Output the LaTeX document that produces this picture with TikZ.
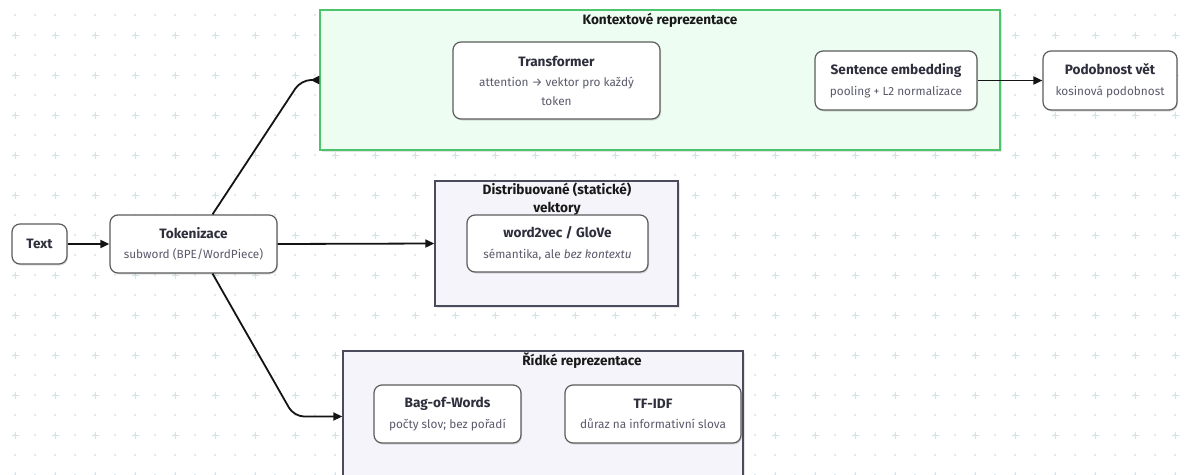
\documentclass[tikz,border=0pt]{standalone}
\usepackage{fontspec}
\setmainfont{Fira Sans}
\usetikzlibrary{arrows.meta,calc,shadows}
\definecolor{gridc}{HTML}{D2E4EA}
\definecolor{ttl}{HTML}{2E2E3C}
\definecolor{subc}{HTML}{5A5A6C}
\definecolor{nodeedge}{HTML}{5C5C5C}
\definecolor{grpedge}{HTML}{4B4B5E}
\definecolor{grpfill}{HTML}{F4F4FA}
\definecolor{ctxedge}{HTML}{4CC46C}
\definecolor{ctxfill}{HTML}{EDFDF2}
% title line, then the grey description below it
\newcommand{\nt}[2]{{\fontsize{13.6}{15}\selectfont\bfseries\color{ttl}#1}\\[2pt]#2}
\tikzset{
  box/.style={draw=nodeedge, line width=1.2pt, fill=white, rounded corners=8pt,
    align=center, inner sep=0pt, text=subc, font=\fontsize{11.8}{18.5}\selectfont,
    drop shadow={shadow xshift=1pt, shadow yshift=-1.5pt, opacity=0.12, fill=black}},
  grp/.style={draw=grpedge, line width=1.4pt, fill=grpfill, inner sep=0pt,
    drop shadow={shadow xshift=1.5pt, shadow yshift=-1.5pt, opacity=0.10, fill=black}},
  ctxgrp/.style={draw=ctxedge, line width=1.4pt, fill=ctxfill, inner sep=0pt,
    drop shadow={shadow xshift=1.5pt, shadow yshift=-1.5pt, opacity=0.10, fill=black}},
  grptitle/.style={font=\fontsize{13.6}{18}\selectfont\bfseries, text=black!90, align=center, inner sep=0pt},
  conn/.style={line width=1.8pt, draw=black!92, -{Triangle[length=9pt,width=8pt]}},
}
\begin{document}
\begin{tikzpicture}[x=1pt,y=-1pt]
\clip (0,0) rectangle (1186,474);
\fill[white] (0,0) rectangle (1186,474);
% dotted background grid with crosses
\foreach \x in {15,35,...,1180}{
  \foreach \y in {15,35,...,480}{
    \fill[gridc] (\x,\y) circle (1.1);
  }
}
\foreach \x in {15,55,...,1180}{
  \foreach \y in {35,75,...,480}{
    \draw[gridc, line width=1pt] (\x-3.5,\y) -- (\x+3.5,\y) (\x,\y-3.5) -- (\x,\y+3.5);
  }
}

% groups
\node[ctxgrp, minimum width=680pt, minimum height=140pt] (ctx) at (660,80) {};
\node[grptitle] (ctxt) at (660,20) {Kontextové reprezentace};
\node[grp, minimum width=243pt, minimum height=125pt] (dist) at (556.5,243.5) {};
\node[grptitle] (distt) at (557,199) {Distribuované (statické)\\vektory};
\node[grp, minimum width=400pt, minimum height=131pt] (sparse) at (543,416.5) {};
\node[grptitle] (sparset) at (582,361) {Řídké reprezentace};

% nodes
\node[box, minimum width=55pt, minimum height=40pt] (txt) at (39.5,244)
  {\fontsize{13.6}{15}\selectfont\bfseries\color{ttl}Text};
\node[box, minimum width=167pt, minimum height=58pt] (tok) at (193.5,244)
  {\nt{Tokenizace}{subword (BPE/WordPiece)}};
\node[box, minimum width=207pt, minimum height=77pt] (trf) at (556.5,80.5)
  {\nt{Transformer}{attention → vektor pro každý\\token}};
\node[box, minimum width=162pt, minimum height=59pt] (sent) at (896,80.5)
  {\nt{Sentence embedding}{pooling + L2 normalizace}};
\node[box, minimum width=134pt, minimum height=59pt] (sim) at (1110,80.5)
  {\nt{Podobnost vět}{kosinová podobnost}};
\node[box, minimum width=181pt, minimum height=57pt] (w2v) at (557.5,243.5)
  {\nt{word2vec / GloVe}{sémantika, ale \textit{bez kontextu}}};
\node[box, minimum width=147pt, minimum height=58pt] (bow) at (447.5,414)
  {\nt{Bag-of-Words}{počty slov; bez pořadí}};
\node[box, minimum width=176pt, minimum height=58pt] (tfidf) at (653,414)
  {\nt{TF-IDF}{důraz na informativní slova}};

% connectors
\coordinate (up) at (301,80);
\coordinate (down) at (294,416.5);
\draw[conn] (txt.east) -- (tok.west);
\draw[conn] (tok.east) -- (dist.west);
\draw[line width=1.8pt, draw=black!92, -{Triangle[reversed,length=9pt,width=8pt]}, rounded corners=10pt]
  ($(tok.north)+(19,0)$) -- (up) -- (ctx.west);
\draw[conn, rounded corners=10pt] ($(tok.south)+(19,0)$) -- (down) -- (sparse.west);
\draw[conn] (sent.east) -- (sim.west);
\end{tikzpicture}
\end{document}
